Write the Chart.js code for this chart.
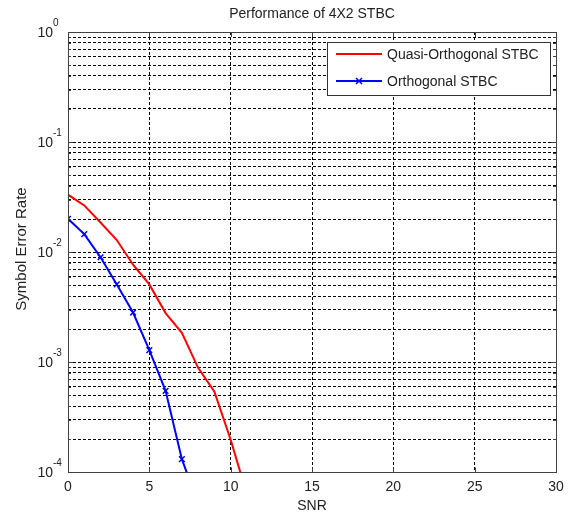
<!DOCTYPE html>
<html><head><meta charset="utf-8">
<script src="https://cdn.jsdelivr.net/npm/chart.js@4/dist/chart.umd.min.js"></script>
<style>html,body{margin:0;padding:0;background:#fff}#wrap{width:573px;height:517px}</style>
</head><body><div id="wrap"><canvas id="c" width="573" height="517"></canvas></div>
<script>
// ---- data ----
const snrQuasi = [0, 1, 2, 3, 4, 5, 6, 7, 8, 9, 10, 11];
const quasiSER = [0.0333, 0.0266, 0.0186, 0.0129, 0.0077, 0.0051, 0.0028, 0.00185, 0.00089, 0.00054, 0.000198, 0.000063];
const snrOrth = [0, 1, 2, 3, 4, 5, 6, 7, 8];
const orthSER = [0.0201, 0.0146, 0.0090, 0.0051, 0.00283, 0.00129, 0.00055, 0.000132, 0.000052];
const xTickValues = [0, 5, 10, 15, 20, 25, 30];
const yDecadeExponents = [0, -1, -2, -3, -4];
const seriesNames = ['Quasi-Orthogonal STBC', 'Orthogonal STBC'];
const chartTitle = 'Performance of 4X2 STBC';
const xLabel = 'SNR';
const yLabel = 'Symbol Error Rate';

const FONT = "'Liberation Sans', Arial, sans-serif";
const TXT = '#222';

// grid values for log axis: 1..9 x 10^k
const yGrid = [];
for (const e of yDecadeExponents.slice().sort((a,b)=>a-b)) {
  for (let m = 1; m <= 9; m++) {
    const v = m * Math.pow(10, e);
    if (v <= 1.0000001) yGrid.push({value: v, major: m === 1});
  }
}

const framePlugin = {
  id: 'frame',
  afterDraw(chart) {
    const ctx = chart.ctx, a = chart.chartArea, xs = chart.scales.x, ys = chart.scales.y;
    ctx.save();
    // frame
    ctx.strokeStyle = '#404040'; ctx.lineWidth = 1; ctx.setLineDash([]);
    ctx.strokeRect(Math.round(a.left)+0.5, Math.round(a.top)+0.5, Math.round(a.right-a.left), Math.round(a.bottom-a.top));
    // inner ticks
    ctx.beginPath();
    for (const t of yGrid) {
      const py = Math.round(ys.getPixelForValue(t.value)) + 0.5;
      const len = t.major ? 5 : 3;
      ctx.moveTo(a.left, py); ctx.lineTo(a.left + len, py);
      ctx.moveTo(a.right, py); ctx.lineTo(a.right - len, py);
    }
    for (const v of xTickValues) {
      const px = Math.round(xs.getPixelForValue(v)) + 0.5;
      ctx.moveTo(px, a.bottom); ctx.lineTo(px, a.bottom - 5);
      ctx.moveTo(px, a.top); ctx.lineTo(px, a.top + 5);
    }
    ctx.stroke();
    // y tick labels with superscript exponent
    ctx.fillStyle = TXT;
    for (const e of yDecadeExponents) {
      const py = ys.getPixelForValue(Math.pow(10, e));
      ctx.font = '14px ' + FONT;
      ctx.textAlign = 'right'; ctx.textBaseline = 'middle';
      ctx.fillText('10', a.left - 15, py + 1);
      ctx.font = '10px ' + FONT;
      ctx.textAlign = 'left'; ctx.textBaseline = 'alphabetic';
      ctx.fillText(String(e), a.left - 15, py - 6);
    }
    // y title
    ctx.save();
    ctx.translate(26, 249);
    ctx.rotate(-Math.PI / 2);
    ctx.font = '15px ' + FONT;
    ctx.textAlign = 'center'; ctx.textBaseline = 'alphabetic';
    ctx.fillText(yLabel, 0, 0);
    ctx.restore();
    // legend
    const lx = 327.5, ly = 42.5, lw = 223, lh = 53;
    ctx.fillStyle = '#fff';
    ctx.fillRect(lx, ly, lw, lh);
    ctx.strokeStyle = '#333'; ctx.lineWidth = 1;
    ctx.strokeRect(lx, ly, lw, lh);
    const ds = chart.data.datasets;
    const rows = [54, 81];
    ds.forEach((d, i) => {
      const y = rows[i];
      ctx.strokeStyle = d.borderColor; ctx.lineWidth = 2;
      ctx.beginPath(); ctx.moveTo(336, y); ctx.lineTo(382, y); ctx.stroke();
      if (d.pointStyle === 'crossRot') {
        const r = 3; ctx.lineWidth = 1.5;
        ctx.beginPath();
        ctx.moveTo(359 - r, y - r); ctx.lineTo(359 + r, y + r);
        ctx.moveTo(359 - r, y + r); ctx.lineTo(359 + r, y - r);
        ctx.stroke();
      }
      ctx.fillStyle = TXT; ctx.font = '14px ' + FONT;
      ctx.textAlign = 'left'; ctx.textBaseline = 'middle';
      ctx.fillText(d.label, 387, y + 1);
    });
    ctx.restore();
  }
};

new Chart(document.getElementById('c'), {
  type: 'line',
  data: {
    datasets: [
      {
        label: seriesNames[0],
        data: snrQuasi.map((x, i) => ({x, y: quasiSER[i]})),
        borderColor: '#ff0000', backgroundColor: '#ff0000',
        borderWidth: 2, pointRadius: 0, tension: 0, clip: 0
      },
      {
        label: seriesNames[1],
        data: snrOrth.map((x, i) => ({x, y: orthSER[i]})),
        borderColor: '#0000ff', backgroundColor: '#0000ff',
        borderWidth: 2, pointStyle: 'crossRot', pointRadius: 4, pointBorderWidth: 1.5,
        tension: 0, clip: 0
      }
    ]
  },
  options: {
    responsive: false, animation: false, devicePixelRatio: 1,
    layout: { padding: { left: 68, right: 17, top: 0, bottom: 2.6 } },
    plugins: {
      legend: { display: false },
      tooltip: { enabled: false },
      title: {
        display: true, text: chartTitle, color: TXT,
        font: { family: FONT, size: 14, weight: 'normal' },
        padding: { top: 5.6, bottom: 9.6 }
      }
    },
    scales: {
      x: {
        type: 'linear', min: 0, max: 30,
        afterBuildTicks(s) { s.ticks = xTickValues.map(v => ({value: v})); },
        ticks: { color: TXT, font: { family: FONT, size: 14 }, padding: 6.6, maxRotation: 0 },
        grid: { color: '#000', lineWidth: 1, drawTicks: false },
        border: { display: false, dash: [3, 2] },
        title: { display: true, text: xLabel, color: TXT, font: { family: FONT, size: 14 }, padding: { top: -4.8, bottom: 0 } }
      },
      y: {
        type: 'logarithmic', min: 1e-4, max: 1,
        afterBuildTicks(s) { s.ticks = yGrid.map(t => ({value: t.value, major: t.major})); },
        afterFit(s) { s.width = 0; },
        ticks: { display: false },
        grid: { color: '#000', lineWidth: 1, drawTicks: false },
        border: { display: false, dash: [3, 2] }
      }
    }
  },
  plugins: [framePlugin]
});
</script>
</body></html>
